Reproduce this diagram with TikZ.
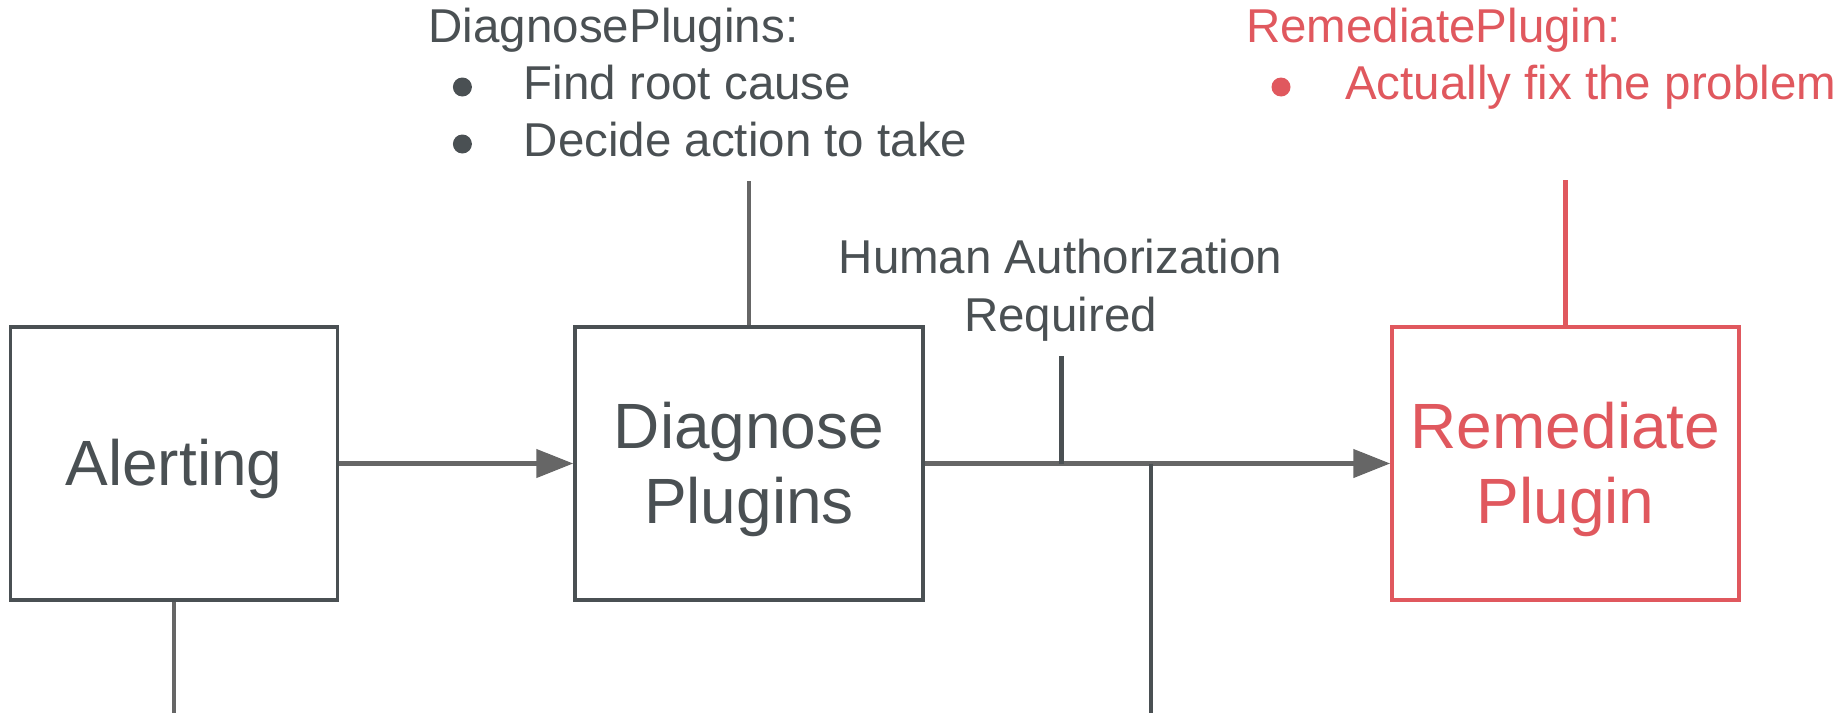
\documentclass[tikz,border=0pt]{standalone}
\usepackage{fontspec}
\setmainfont{Liberation Sans}
\usetikzlibrary{arrows.meta}
\definecolor{ink}{HTML}{4A5053}
\definecolor{wire}{HTML}{666666}
\definecolor{alarm}{HTML}{E0585E}
\newcommand\twoline[2]{\vtop{\halign{\hfil##\hfil\cr#1\cr#2\cr}}}
\begin{document}
\begin{tikzpicture}[x=1pt,y=-1pt,
  box/.style={draw=ink,line width=3.5pt,inner sep=0pt,text=ink,
    font=\fontsize{64}{75}\selectfont,text height=57.9pt,text depth=13.6pt,
    minimum height=273pt},
  flow/.style={draw=wire,line width=4.5pt,-{Triangle[length=37pt,width=28pt]}},
  graywire/.style={draw=wire,line width=4.5pt},
  darkwire/.style={draw=ink,line width=4.5pt},
  redwire/.style={draw=alarm,line width=4.5pt},
  small/.style={inner sep=0pt,font=\fontsize{47.5}{58}\selectfont},
  dot/.style={circle,inner sep=0pt,minimum size=19pt,draw=none}]
\useasboundingbox (0,0) rectangle (1845,715);
% boxes
\node[box,minimum width=327pt] (alert) at (174,463.5) {Alerting};
\node[box,minimum width=348pt,text depth=88.6pt] (diag) at (749,463.5) {\twoline{Diagnose}{Plugins}};
\node[box,draw=alarm,text=alarm,minimum width=347pt,text depth=88.6pt] (rem) at (1565.5,463.5) {\twoline{Remediate}{Plugin}};
% arrows
\draw[flow] (alert.east) -- (diag.west);
\draw[flow] (diag.east) -- (rem.west);
% free lines
\coordinate (alertEnd) at (174,713);
\draw[graywire] (alert.south) -- (alertEnd);
\coordinate (diagTop) at (749,181);
\draw[graywire] (diag.north) -- (diagTop);
\coordinate (remTop) at (1565.5,180);
\draw[redwire] (rem.north) -- (remTop);
\coordinate (tickTop) at (1061.5,356);
\draw[darkwire] (tickTop) -- (tickTop |- diag.east);
\coordinate (dropEnd) at (1151,713);
\draw[darkwire] (dropEnd |- diag.east) -- (dropEnd);
% texts
\node[small,text=ink,anchor=base west] (dpTitle) at (428.5,42) {DiagnosePlugins:};
\node[dot,fill=ink] (dpB1) at (462.4,87) {};
\node[small,text=ink,anchor=base west] (dpI1) at (523.5,99) {Find root cause};
\node[dot,fill=ink] (dpB2) at (462.4,144) {};
\node[small,text=ink,anchor=base west] (dpI2) at (523.5,156) {Decide action to take};
\node[small,text=ink,anchor=base] (auth) at (1060.5,273) {\twoline{Human Authorization}{Required}};
\node[small,text=alarm,anchor=base west] (rpTitle) at (1246,42) {RemediatePlugin:};
\node[dot,fill=alarm] (rpB1) at (1281,87) {};
\node[small,text=alarm,anchor=base west] (rpI1) at (1345,99) {Actually fix the problem};
\end{tikzpicture}
\end{document}
